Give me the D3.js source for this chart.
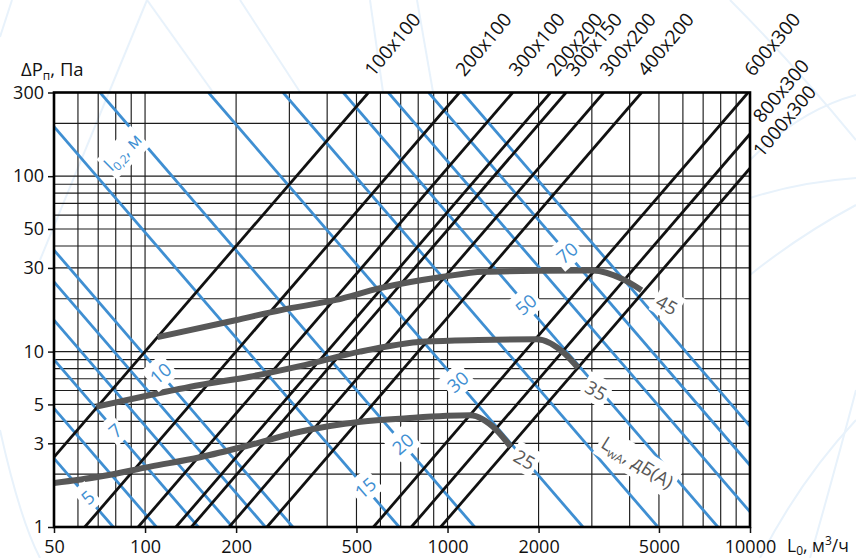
<!DOCTYPE html>
<html>
<head>
<meta charset="utf-8">
<script src="https://cdn.jsdelivr.net/npm/d3@7/dist/d3.min.js"></script>
<style>
  html, body { margin: 0; padding: 0; background: #fff; }
  svg { display: block; font-family: "Open Sans", "Noto Sans", sans-serif; }
</style>
</head>
<body>
<svg id="chart" width="856" height="558"></svg>
<script>
// ---- axes ----
const flowDomain = [50, 10000];          // L0, m3/h
const pressureDomain = [1, 300];         // dPp, Pa
const xGridValues = [50, 60, 70, 80, 90, 100, 200, 300, 400, 500, 600, 700, 800, 900,
                     1000, 2000, 3000, 4000, 5000, 6000, 7000, 8000, 9000, 10000];
const yGridValues = [1, 2, 3, 4, 5, 6, 7, 8, 9, 10, 20, 30, 40, 50, 60, 70, 80, 90, 100, 200, 300];
const xTickValues = [50, 100, 200, 500, 1000, 2000, 5000, 10000];
const yTickValues = [1, 3, 5, 10, 30, 50, 100, 300];

// ---- duct size lines (pressure loss vs. flow), visible segment end points ----
const ductSizes  = ["100x100", "200x100", "300x100", "200x200", "300x150",
                    "300x200", "400x200", "600x300", "800x300", "1000x300"];
const ductStartL = [50, 63.2, 94.9, 126.5, 142.3, 189.7, 253, 569, 759, 949];
const ductStartP = [2.5, 1, 1, 1, 1, 1, 1, 1, 1, 1];
const ductEndL   = [548, 1095, 1643, 2191, 2465, 3286, 4382, 9859, 10000, 10000];
const ductEndP   = [300, 300, 300, 300, 300, 300, 300, 300, 174, 111];

// ---- throw length lines l0,2 (m), visible segment end points ----
const throwLengths = [5, 6, 7, 8, 9, 10, 15, 20, 30, 40, 50, 60, 70, 80];
const throwStartL  = [50, 50, 50, 50, 50, 50, 50, 71, 162, 286, 452, 637, 866, 1120];
const throwStartP  = [2.46, 4.75, 9.0, 15.1, 25, 37.9, 191.5, 300, 300, 300, 300, 300, 300, 300];
const throwEndL    = [78.5, 109, 150, 194.5, 250, 308, 692, 1229, 2804, 4961, 7831, 10000, 10000, 10000];
const throwEndP    = [1, 1, 1, 1, 1, 1, 1, 1, 1, 1, 1, 1.22, 2.25, 3.76];

// labels written on the throw lines
const throwLabels = ["5", "7", "10", "15", "20", "30", "50", "70"];
const throwLabelL = [64.7, 79.8, 112.6, 536, 713, 1083, 1819, 2486];
const throwLabelP = [1.47, 3.53, 7.48, 1.667, 2.97, 6.7, 18.5, 36.4];

// ---- sound power level curves LwA, dB(A) ----
const noiseLevels = ["25", "35", "45"];
const noise25L = [50, 71, 104, 152, 222, 325, 516, 734, 1187, 1451, 1616];
const noise25P = [1.78, 1.94, 2.21, 2.5, 2.93, 3.49, 3.98, 4.17, 4.33, 3.57, 2.87];
const noise35L = [69, 104, 152, 222, 325, 513, 842, 1266, 1970, 2432, 2700];
const noise35P = [4.85, 5.66, 6.45, 7.19, 8.26, 9.99, 11.4, 11.65, 11.75, 9.78, 8.08];
const noise45L = [110, 199, 284, 427, 598, 968, 1312, 2022, 3025, 3810, 4380];
const noise45P = [12.1, 15.1, 17.3, 19.7, 23.0, 26.7, 28.5, 28.9, 29.0, 25.8, 22.4];
const noiseLabelL = [1794, 3094, 5302];
const noiseLabelP = [2.41, 5.97, 18.4];

// ---- layout ----
const svg = d3.select("#chart");
const plotLeft = 54, plotRight = 750, plotTop = 92.5, plotBottom = 527;
const x = d3.scaleLog().domain(flowDomain).range([plotLeft, plotRight]);
const y = d3.scaleLog().domain(pressureDomain).range([plotBottom, plotTop]);

const BLUE = "#3f8fd2", GREY = "#585858", INK = "#111";

// faint decorative background strokes
const deco = svg.append("g").attr("fill", "none").attr("stroke", "#e8f2fb").attr("stroke-width", 2);
[
  "M0,37 L12,0", "M147,0 L40,260", "M147,0 L215,95", "M240,0 L300,92",
  "M370,0 L383,92", "M417,0 L433,92", "M730,0 Q790,60 856,140",
  "M750,160 Q800,110 856,95", "M750,198 Q800,182 856,178", "M750,275 Q800,235 856,205",
  "M810,558 Q835,470 856,390", "M760,558 Q800,480 856,420", "M0,430 Q20,520 40,558"
].forEach(d => deco.append("path").attr("d", d));

svg.append("defs").append("clipPath").attr("id", "plot")
  .append("rect").attr("x", plotLeft).attr("y", plotTop)
  .attr("width", plotRight - plotLeft).attr("height", plotBottom - plotTop);

// grid
const grid = svg.append("g").attr("stroke", "#1c1c1c").attr("stroke-width", 1.15);
grid.selectAll("line.v").data(xGridValues).join("line").attr("class", "v")
  .attr("x1", d => x(d)).attr("x2", d => x(d)).attr("y1", plotTop).attr("y2", plotBottom);
grid.selectAll("line.h").data(yGridValues).join("line").attr("class", "h")
  .attr("y1", d => y(d)).attr("y2", d => y(d)).attr("x1", plotLeft).attr("x2", plotRight);

const plot = svg.append("g").attr("clip-path", "url(#plot)");

// throw lines
plot.append("g").selectAll("line").data(throwLengths).join("line")
  .attr("x1", (d, i) => x(throwStartL[i])).attr("y1", (d, i) => y(throwStartP[i]))
  .attr("x2", (d, i) => x(throwEndL[i])).attr("y2", (d, i) => y(throwEndP[i]))
  .attr("stroke", BLUE).attr("stroke-width", 2.8);

// duct lines
plot.append("g").selectAll("line").data(ductSizes).join("line")
  .attr("x1", (d, i) => x(ductStartL[i])).attr("y1", (d, i) => y(ductStartP[i]))
  .attr("x2", (d, i) => x(ductEndL[i])).attr("y2", (d, i) => y(ductEndP[i]))
  .attr("stroke", INK).attr("stroke-width", 2.8);

// noise curves
const noiseLine = d3.line().x(d => x(d[0])).y(d => y(d[1])).curve(d3.curveMonotoneX);
[[noise25L, noise25P], [noise35L, noise35P], [noise45L, noise45P]].forEach(([ls, ps]) => {
  plot.append("path").attr("d", noiseLine(ls.map((v, i) => [v, ps[i]])))
    .attr("fill", "none").attr("stroke", GREY).attr("stroke-width", 6);
});

// rotated label with a white patch behind it
function patchLabel(g, px, py, angle, build, color, pad, size) {
  const lg = g.append("g").attr("transform", `translate(${px},${py}) rotate(${angle})`);
  const rect = lg.append("rect").attr("fill", "#fff");
  const t = lg.append("text").attr("text-anchor", "middle").attr("dy", "0.35em")
    .attr("fill", color).attr("font-size", size);
  build(t);
  const b = t.node().getBBox();
  rect.attr("x", b.x - pad).attr("y", b.y - pad * 0.4)
    .attr("width", b.width + 2 * pad).attr("height", b.height + pad * 0.8);
}
const labels = svg.append("g");
throwLabels.forEach((s, i) => {
  patchLabel(labels, x(throwLabelL[i]), y(throwLabelP[i]), -41, t => t.text(s), BLUE, 3, 18.5);
});
patchLabel(labels, x(84.5), y(137.4), -45, t => {
  t.append("tspan").text("l");
  t.append("tspan").attr("font-size", 12).attr("dy", 4).text("0,2");
  t.append("tspan").attr("dy", -4).text(", м");
}, BLUE, 2, 18);
noiseLevels.forEach((s, i) => {
  patchLabel(labels, x(noiseLabelL[i]), y(noiseLabelP[i]), 30, t => t.text(s), GREY, 3, 18.5);
});
patchLabel(labels, x(4245), y(2.33), 32, t => {
  t.append("tspan").text("L");
  t.append("tspan").attr("font-size", 12).attr("dy", 4).text("wA");
  t.append("tspan").attr("dy", -4).text(", дБ(A)");
}, GREY, 3, 18.5);

// duct size labels beyond the frame
const ductNudge = { "300x150": 4 };
svg.append("g").selectAll("text").data(ductSizes).join("text")
  .attr("transform", (d, i) => {
    const ex = x(ductEndL[i]), ey = y(ductEndP[i]);
    const onTop = ductEndP[i] >= 300;
    const px = onTop ? ex + 5 + (ductNudge[d] || 0) : ex + 12;
    const py = onTop ? ey - 15 : ey - 10;
    return `translate(${px},${py}) rotate(-50)`;
  })
  .attr("font-size", 19).attr("fill", "#111").text(d => d);

// axes
const fmt = d3.format("d");
const xAxis = svg.append("g").attr("transform", `translate(0,${plotBottom})`)
  .call(d3.axisBottom(x).tickValues(xTickValues).tickFormat(fmt).tickSize(6).tickPadding(7).tickSizeOuter(0));
const yAxis = svg.append("g").attr("transform", `translate(${plotLeft},0)`)
  .call(d3.axisLeft(y).tickValues(yTickValues).tickFormat(fmt).tickSize(6).tickPadding(4).tickSizeOuter(0));
[xAxis, yAxis].forEach(a => {
  a.select(".domain").remove();
  a.selectAll("line").attr("stroke", "#111").attr("stroke-width", 1.5);
  a.selectAll("text").attr("font-size", 18).attr("fill", "#111")
    .attr("font-family", "'Open Sans', sans-serif");
});

// frame
svg.append("rect").attr("x", plotLeft).attr("y", plotTop)
  .attr("width", plotRight - plotLeft).attr("height", plotBottom - plotTop)
  .attr("fill", "none").attr("stroke", "#000").attr("stroke-width", 2.6);

// axis titles
const yt = svg.append("text").attr("x", 21).attr("y", 76).attr("font-size", 18.5).attr("fill", "#111");
yt.append("tspan").text("ΔP");
yt.append("tspan").attr("font-size", 12).attr("dy", 4).text("п");
yt.append("tspan").attr("dy", -4).text(", Па");

const xt = svg.append("text").attr("x", 787).attr("y", 552).attr("font-size", 17.5).attr("fill", "#111");
xt.append("tspan").text("L");
xt.append("tspan").attr("font-size", 12).attr("dy", 3).text("0");
xt.append("tspan").attr("dy", -3).text(", м");
xt.append("tspan").attr("font-size", 12).attr("dy", -7).text("3");
xt.append("tspan").attr("dy", 7).text("/ч");
</script>
</body>
</html>
